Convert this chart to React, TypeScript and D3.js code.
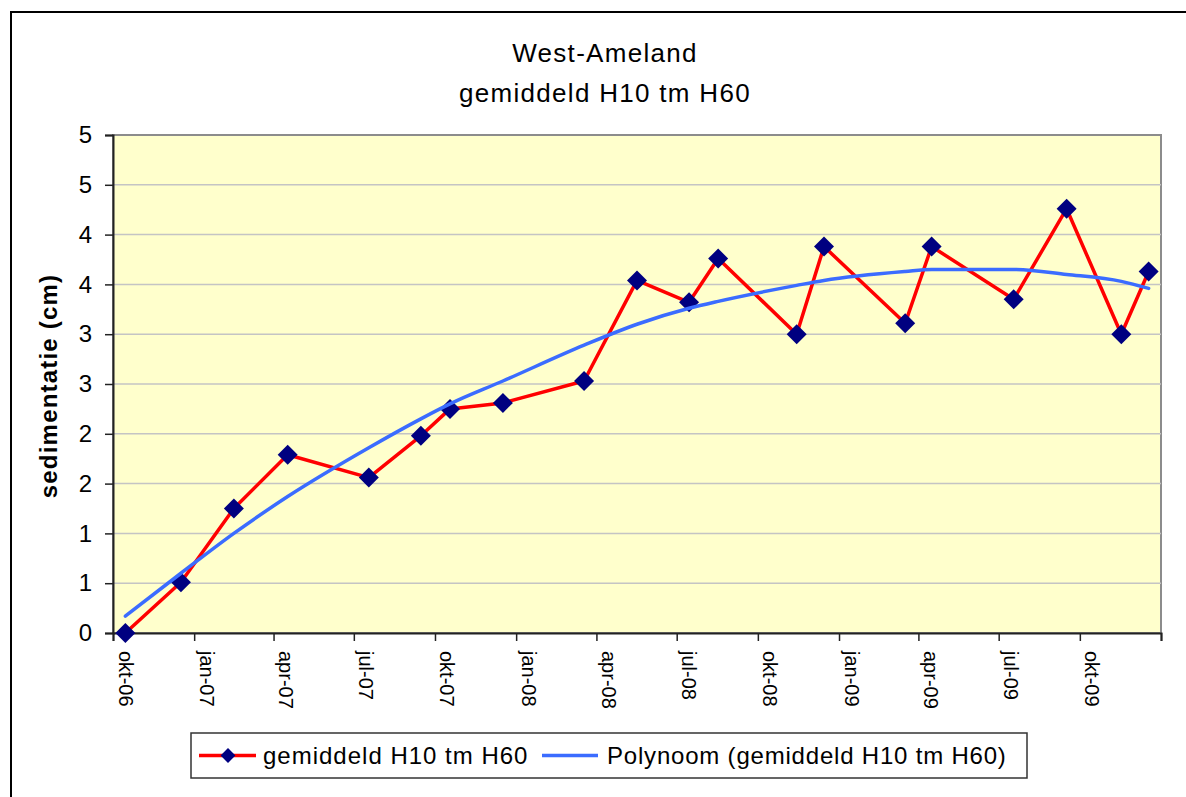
import React, { useEffect, useRef } from 'react';
import * as d3 from 'd3';

// measurement dates and mean sedimentation (cm), H10 tm H60
const sampleDates = [
  '2006-10-15', '2006-12-17', '2007-02-15', '2007-04-17', '2007-07-18',
  '2007-09-15', '2007-10-18', '2007-12-17', '2008-03-18', '2008-05-17',
  '2008-07-15', '2008-08-17', '2008-11-14', '2008-12-15', '2009-03-17',
  '2009-04-16', '2009-07-18', '2009-09-16', '2009-11-17', '2009-12-18'
];
const sedimentation = [
  0, 0.51, 1.25, 1.79, 1.56,
  1.98, 2.25, 2.31, 2.53, 3.54,
  3.32, 3.76, 3.0, 3.88, 3.11,
  3.88, 3.35, 4.26, 3.0, 3.63
];
// polynomial trendline at the same dates
const trendValues = [
  0.17, 0.6, 1.0, 1.37, 1.86,
  2.15, 2.3, 2.53, 2.89, 3.1,
  3.26, 3.33, 3.49, 3.54, 3.63,
  3.65, 3.65, 3.6, 3.53, 3.46
];

const xTickLabels = [
  'okt-06', 'jan-07', 'apr-07', 'jul-07', 'okt-07', 'jan-08', 'apr-08',
  'jul-08', 'okt-08', 'jan-09', 'apr-09', 'jul-09', 'okt-09'
];
const yTickValues = [0, 0.5, 1, 1.5, 2, 2.5, 3, 3.5, 4, 4.5, 5];
const yTickLabels = ['0', '1', '1', '2', '2', '3', '3', '4', '4', '5', '5'];

const seriesName = 'gemiddeld H10 tm H60';
const trendName = 'Polynoom (gemiddeld H10 tm H60)';

const W = 1186;
const H = 797;
const FONT = "'Liberation Sans', Arial, sans-serif";

function App() {
  const svgRef = useRef<SVGSVGElement>(null);

  useEffect(() => {
    const svg = d3.select(svgRef.current);
    svg.selectAll('*').remove();

    const parse = d3.utcParse('%Y-%m-%d');
    const dates = sampleDates.map(d => parse(d) as Date);
    const data = dates.map((d, i) => ({ date: d, value: sedimentation[i], trend: trendValues[i] }));

    const left = 113, right = 1161, top = 135, bottom = 633;

    const x = d3.scaleUtc()
      .domain([parse('2006-10-01') as Date, parse('2010-01-01') as Date])
      .range([left, right]);
    const y = d3.scaleLinear().domain([0, 5]).range([bottom, top]);

    // chart area border (runs off the picture to the right and bottom)
    svg.append('path')
      .attr('d', `M11,${H + 5} L11,12 L${W + 5},12`)
      .attr('fill', 'none')
      .attr('stroke', '#000')
      .attr('stroke-width', 2);

    // title
    const title = svg.append('text')
      .attr('x', 605)
      .attr('text-anchor', 'middle')
      .attr('font-family', FONT)
      .attr('font-size', 26)
      .attr('letter-spacing', 1.3)
      .attr('fill', '#000');
    title.append('tspan').attr('x', 605).attr('y', 62).text('West-Ameland');
    title.append('tspan').attr('x', 605).attr('y', 102).text('gemiddeld H10 tm H60');

    // plot area
    svg.append('rect')
      .attr('x', left)
      .attr('y', top)
      .attr('width', right - left)
      .attr('height', bottom - top)
      .attr('fill', '#FFFFCC')
      .attr('stroke', '#8C8C8C')
      .attr('stroke-width', 2);

    svg.append('g')
      .selectAll('line')
      .data(yTickValues.filter(v => v > 0 && v < 5))
      .enter()
      .append('line')
      .attr('x1', left)
      .attr('x2', right)
      .attr('y1', d => y(d))
      .attr('y2', d => y(d))
      .attr('stroke', '#C4C4C4')
      .attr('stroke-width', 1.5);

    // y axis
    const yAxis = d3.axisLeft(y)
      .tickValues(yTickValues)
      .tickSize(8)
      .tickPadding(13)
      .tickFormat((_, i) => yTickLabels[i]);
    const gy = svg.append('g').attr('transform', `translate(${left},0)`).call(yAxis);
    gy.select('.domain').attr('stroke', '#222').attr('stroke-width', 2);
    gy.selectAll('.tick line').attr('stroke', '#222').attr('stroke-width', 1.5);
    gy.selectAll('.tick text')
      .attr('font-family', FONT)
      .attr('font-size', 24)
      .attr('fill', '#000');

    // x axis
    const xAxis = d3.axisBottom(x)
      .ticks(d3.utcMonth.every(3))
      .tickSize(8)
      .tickFormat((_, i) => xTickLabels[i] ?? '');
    const gx = svg.append('g').attr('transform', `translate(0,${bottom})`).call(xAxis);
    gx.select('.domain').attr('stroke', '#222').attr('stroke-width', 2);
    gx.selectAll('.tick line').attr('stroke', '#222').attr('stroke-width', 1.5);
    gx.selectAll('.tick text')
      .attr('transform', 'rotate(90)')
      .attr('x', 18)
      .attr('y', -5)
      .attr('dy', 0)
      .attr('text-anchor', 'start')
      .attr('font-family', FONT)
      .attr('font-size', 20)
      .attr('fill', '#000');

    // y axis title
    svg.append('text')
      .attr('transform', 'translate(57,386) rotate(-90)')
      .attr('text-anchor', 'middle')
      .attr('font-family', FONT)
      .attr('font-size', 24)
      .attr('font-weight', 'bold')
      .attr('letter-spacing', 1.2)
      .attr('fill', '#000')
      .text('sedimentatie (cm)');

    // data series
    const line = d3.line<{ date: Date; value: number }>()
      .x(d => x(d.date))
      .y(d => y(d.value));

    svg.append('path')
      .datum(data)
      .attr('d', line)
      .attr('fill', 'none')
      .attr('stroke', '#FF0000')
      .attr('stroke-width', 3.5)
      .attr('stroke-linejoin', 'round');

    const diamond = d3.symbol().type(d3.symbolSquare).size(200);
    svg.append('g')
      .selectAll('path')
      .data(data)
      .enter()
      .append('path')
      .attr('d', diamond)
      .attr('transform', d => `translate(${x(d.date)},${y(d.value)}) rotate(45)`)
      .attr('fill', '#000080');

    // trendline on top
    const trendLine = d3.line<{ date: Date; trend: number }>()
      .x(d => x(d.date))
      .y(d => y(d.trend))
      .curve(d3.curveMonotoneX);

    svg.append('path')
      .datum(data)
      .attr('d', trendLine)
      .attr('fill', 'none')
      .attr('stroke', '#3B6CFF')
      .attr('stroke-width', 3.5)
      .attr('stroke-linecap', 'round');

    // legend
    const legend = svg.append('g');
    legend.append('rect')
      .attr('x', 191)
      .attr('y', 733)
      .attr('width', 836)
      .attr('height', 45)
      .attr('fill', '#fff')
      .attr('stroke', '#333')
      .attr('stroke-width', 1.5);

    legend.append('line')
      .attr('x1', 199).attr('x2', 256)
      .attr('y1', 755.5).attr('y2', 755.5)
      .attr('stroke', '#FF0000')
      .attr('stroke-width', 3.5);
    legend.append('path')
      .attr('d', d3.symbol().type(d3.symbolSquare).size(110)())
      .attr('transform', 'translate(228,755.5) rotate(45)')
      .attr('fill', '#000080');
    legend.append('text')
      .attr('x', 263)
      .attr('y', 764)
      .attr('font-family', FONT)
      .attr('font-size', 24)
      .attr('letter-spacing', 1)
      .attr('fill', '#000')
      .text(seriesName);

    legend.append('line')
      .attr('x1', 542).attr('x2', 598)
      .attr('y1', 755.5).attr('y2', 755.5)
      .attr('stroke', '#3B6CFF')
      .attr('stroke-width', 3.5);
    legend.append('text')
      .attr('x', 607)
      .attr('y', 764)
      .attr('font-family', FONT)
      .attr('font-size', 24)
      .attr('letter-spacing', 0.8)
      .attr('fill', '#000')
      .text(trendName);
  }, []);

  return (
    <svg
      ref={svgRef}
      width={W}
      height={H}
      style={{ position: 'absolute', left: 0, top: 0, display: 'block', background: '#fff' }}
    />
  );
}

export default App;
